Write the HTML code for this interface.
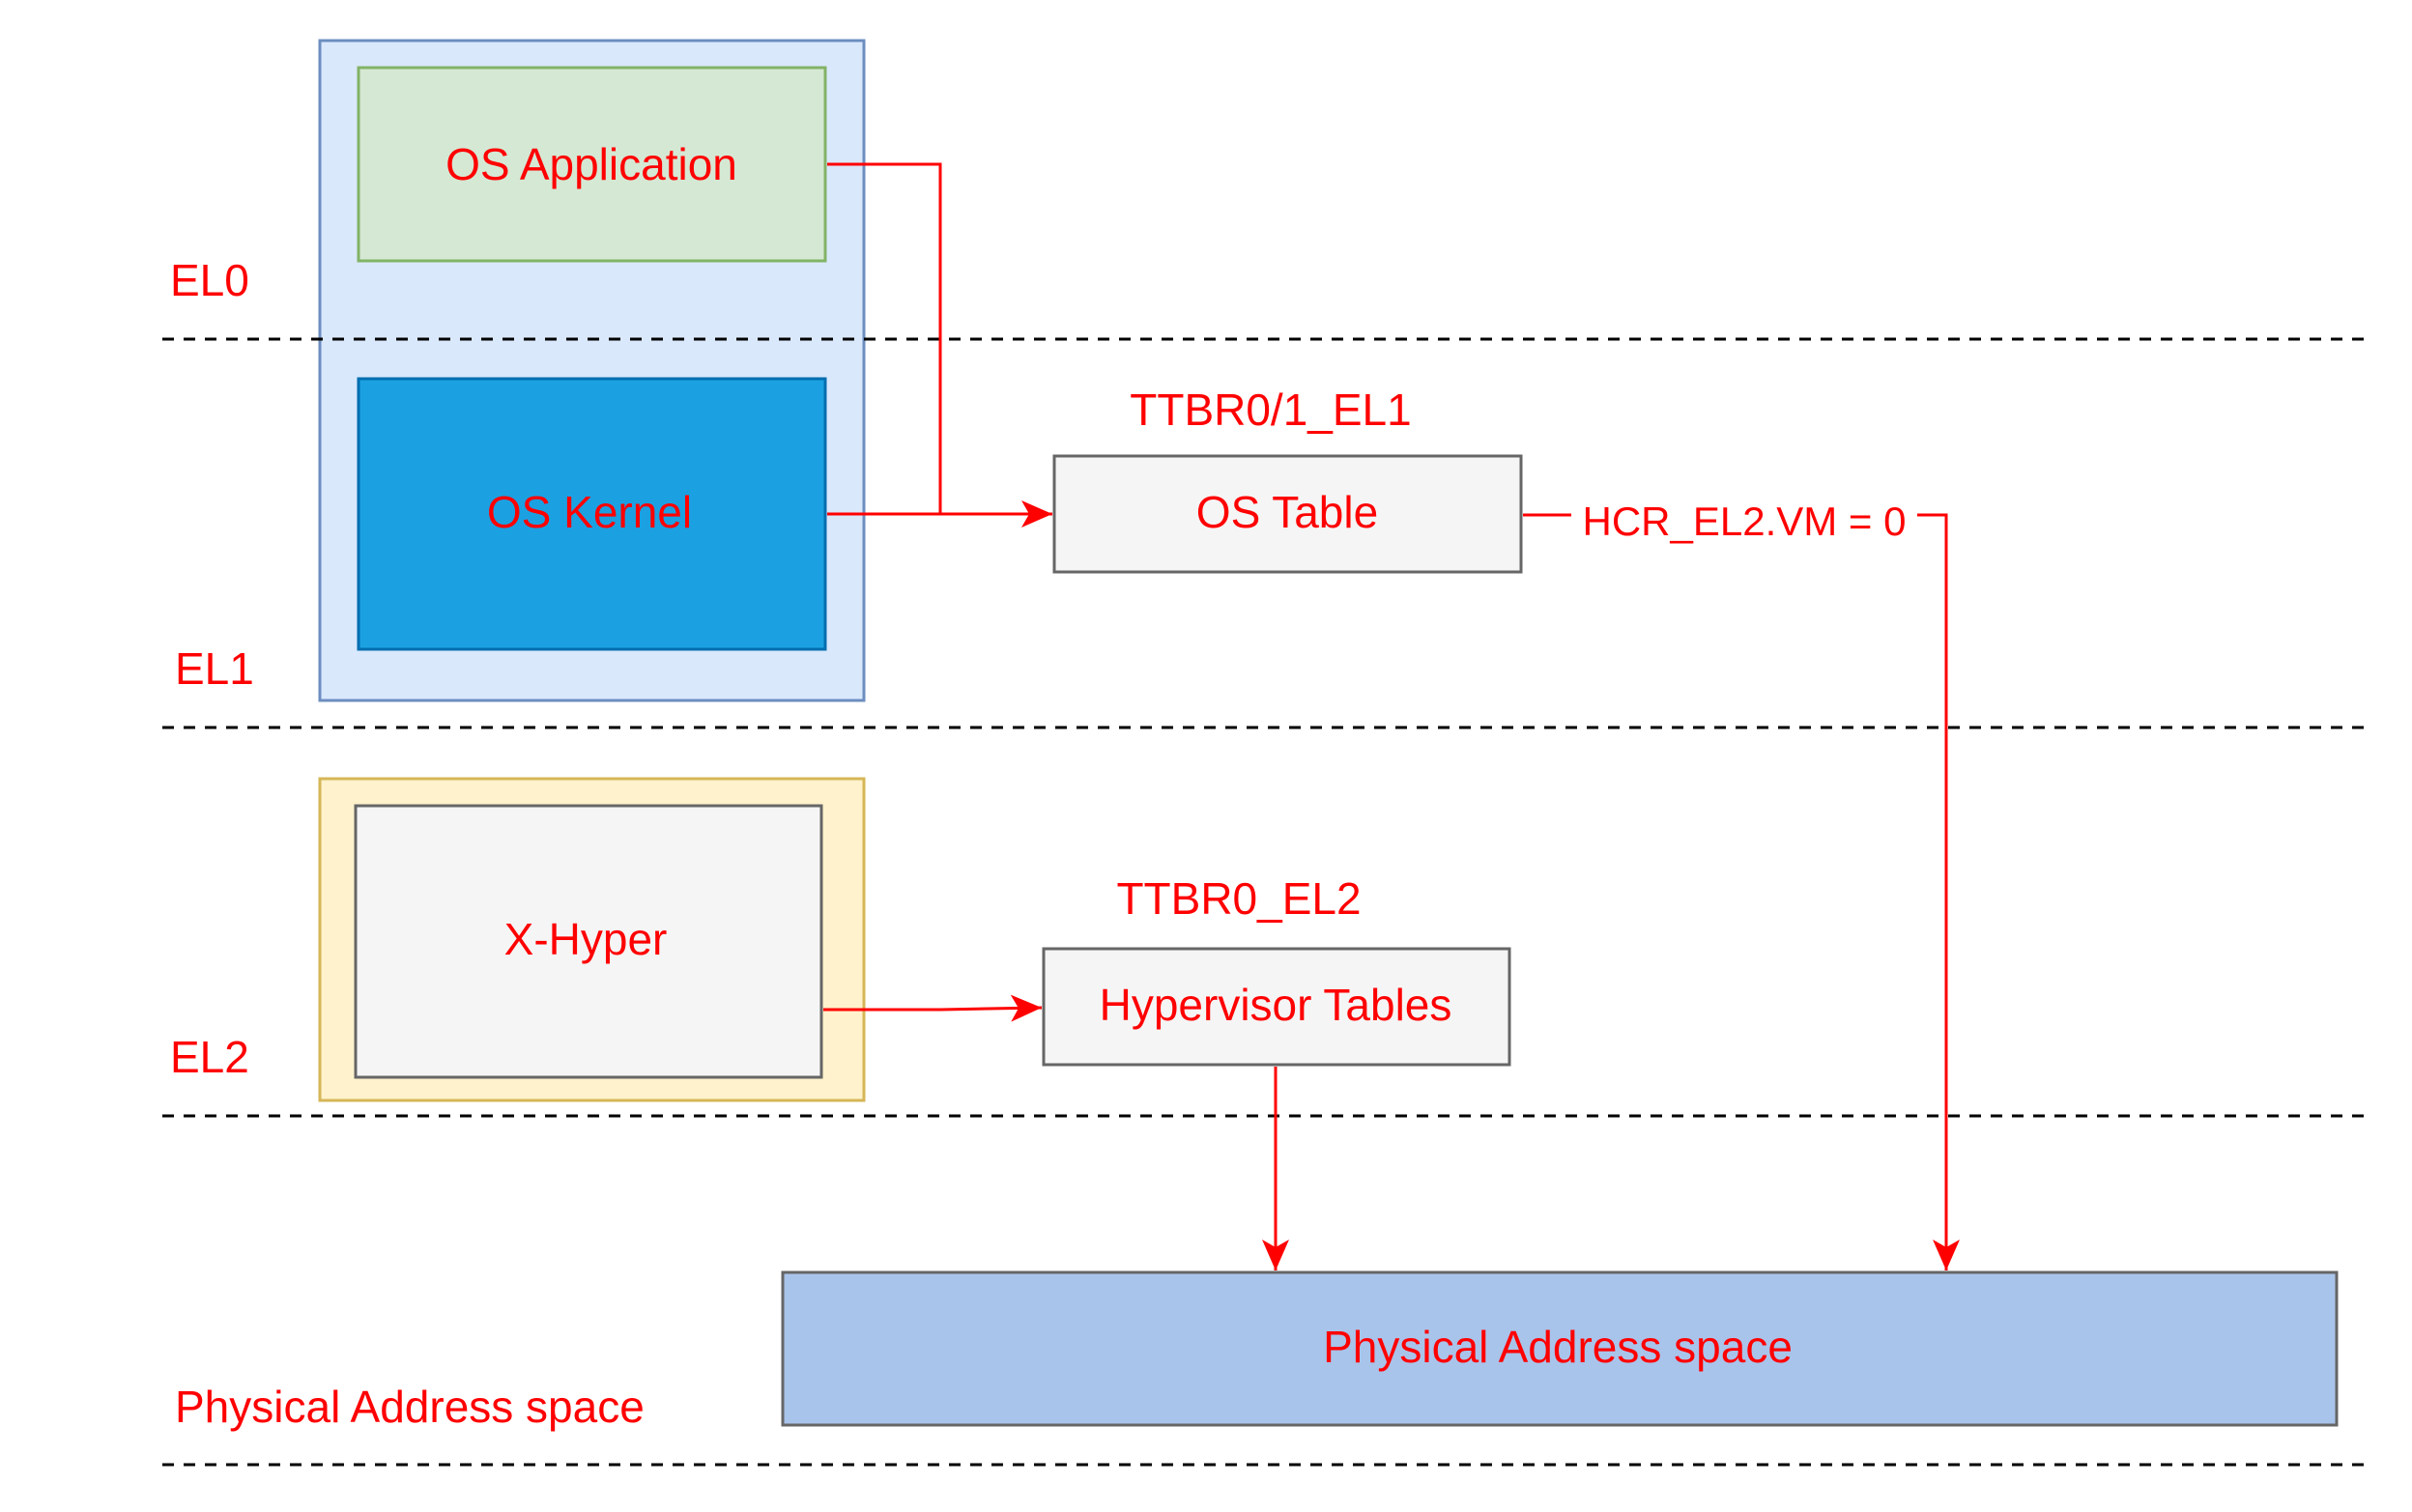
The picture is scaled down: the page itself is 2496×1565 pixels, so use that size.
<!DOCTYPE html>
<html><head><meta charset="utf-8"><style>
html,body{margin:0;padding:0;background:#fff;}
svg text{font-family:"Liberation Sans",sans-serif;fill:#ff0000;}
</style></head><body>
<svg width="2496" height="1560" viewBox="0 0 2496 1560" xmlns="http://www.w3.org/2000/svg">
<defs>
<marker id="b" markerWidth="36" markerHeight="36" refX="32" refY="18" orient="auto" markerUnits="userSpaceOnUse"><path d="M0,4 L32,18 L0,32 L8,18 Z" fill="#ff0000"/></marker></defs>
<rect x="331" y="42" width="563" height="683" fill="#dae8fc" stroke="#6c8ebf" stroke-width="3"/>
<rect x="371" y="70" width="483" height="200" fill="#d5e8d4" stroke="#82b366" stroke-width="3"/>
<rect x="371" y="392" width="483" height="280" fill="#1ba1e2" stroke="#006eaf" stroke-width="3"/>
<rect x="331" y="806" width="563" height="333" fill="#fff2cc" stroke="#d6b656" stroke-width="3"/>
<rect x="368" y="834" width="482" height="281" fill="#f5f5f5" stroke="#666" stroke-width="3"/>
<rect x="1091" y="472" width="483" height="120" fill="#f5f5f5" stroke="#666" stroke-width="3"/>
<rect x="1080" y="982" width="482" height="120" fill="#f5f5f5" stroke="#666" stroke-width="3"/>
<rect x="810" y="1317" width="1608" height="158" fill="#a9c4eb" stroke="#666" stroke-width="3"/>
<g stroke="#000" stroke-width="3" stroke-dasharray="12,10">
<line x1="168" y1="351" x2="2448" y2="351"/>
<line x1="168" y1="753" x2="2448" y2="753"/>
<line x1="168" y1="1155" x2="2448" y2="1155"/>
<line x1="168" y1="1516" x2="2448" y2="1516"/>
</g>
<g fill="none" stroke="#ff0000" stroke-width="3">
<path d="M856,170 H973 V532 H1060"/>
<path d="M856,532 H1089" marker-end="url(#b)"/>
<path d="M852,1045 H973 L1078,1043" marker-end="url(#b)"/>
<path d="M1320,1104 V1315" marker-end="url(#b)"/>
<path d="M1576,533 H1626 M1984,533 H2014 V1315" marker-end="url(#b)"/>
</g>
<g font-size="46" text-anchor="middle">
<text x="612" y="186">OS Application</text>
<text x="610" y="546">OS Kernel</text>
<text x="606" y="988">X-Hyper</text>
<text x="1332" y="546">OS Table</text>
<text x="1320" y="1056">Hypervisor Tables</text>
<text x="1612" y="1410">Physical Address space</text>
<text x="1315" y="440">TTBR0/1_EL1</text>
<text x="1282" y="946">TTBR0_EL2</text>
<text x="1805" y="554" font-size="42">HCR_EL2.VM = 0</text>
</g>
<g font-size="46">
<text x="176" y="306">EL0</text>
<text x="181" y="708">EL1</text>
<text x="176" y="1110">EL2</text>
<text x="181" y="1472">Physical Address space</text>
</g>
</svg>
</body></html>
